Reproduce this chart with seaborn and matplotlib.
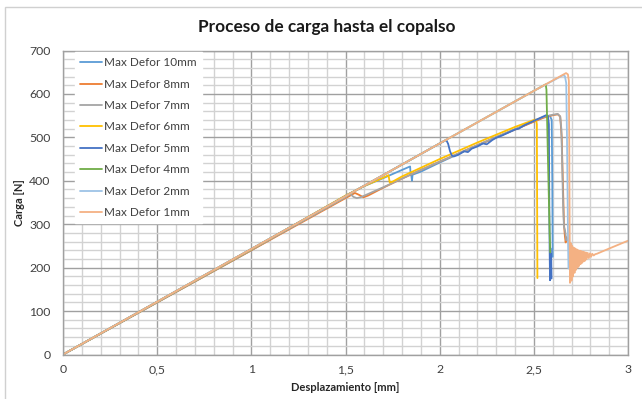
import numpy as np
import pandas as pd
import matplotlib
matplotlib.use("Agg")
import matplotlib.pyplot as plt
import seaborn as sns
from matplotlib.patches import Rectangle
from matplotlib.ticker import MultipleLocator

# ---------------- data ----------------
labels = ["Max Defor 10mm", "Max Defor 8mm", "Max Defor 7mm", "Max Defor 6mm",
          "Max Defor 5mm", "Max Defor 4mm", "Max Defor 2mm", "Max Defor 1mm"]
colors = ["#5B9BD5", "#ED7D31", "#A5A5A5", "#FFC000",
          "#4472C4", "#70AD47", "#9DC3E6", "#F4B183"]

s10_x = [0, 1.0, 1.52, 1.6, 1.7, 1.8, 1.843, 1.846, 1.85, 1.853, 1.856, 1.9, 2.0, 2.1, 2.2, 2.3, 2.4, 2.5, 2.55, 2.585, 2.595, 2.598, 2.6]
s10_y = [0, 240, 370, 388, 406, 425, 433, 413, 411, 400, 414, 421, 442, 462, 481, 500, 518, 537, 546, 550, 540, 400, 225]

s8_x = [0, 1.0, 1.5, 1.55, 1.57, 1.595, 1.62, 1.7, 1.8, 1.9, 2.0, 2.1, 2.2, 2.3, 2.4, 2.5, 2.55, 2.6, 2.627, 2.64, 2.648, 2.654, 2.66, 2.665, 2.669, 2.673, 2.678]
s8_y = [0, 240, 360, 372, 368, 362, 366, 384, 405, 425, 444, 463, 482, 500, 518, 536, 545, 551, 553, 548, 500, 400, 300, 272, 258, 270, 262]

s7_x = [0, 1.0, 1.5, 1.525, 1.542, 1.56, 1.58, 1.7, 1.8, 1.9, 2.0, 2.1, 2.2, 2.3, 2.4, 2.5, 2.55, 2.6, 2.627, 2.64, 2.646, 2.65, 2.655, 2.66, 2.666, 2.672]
s7_y = [0, 241, 362, 370, 363, 360, 362, 385, 405, 425, 444, 463, 482, 501, 519, 538, 547, 552, 554, 548, 520, 450, 350, 294, 285, 263]

s6_x = [0, 1.0, 1.5, 1.6, 1.7, 1.728, 1.735, 1.75, 1.8, 1.9, 2.0, 2.1, 2.2, 2.3, 2.4, 2.5, 2.512, 2.516, 2.518, 2.519]
s6_y = [0, 242, 366, 388, 407, 413, 396, 398, 410, 430, 450, 469, 488, 506, 524, 540, 541, 530, 300, 176]

s5_x = [0, 1.0, 2.0, 2.035, 2.045, 2.055, 2.065, 2.075, 2.1, 2.13, 2.15, 2.17, 2.2, 2.23, 2.25, 2.28, 2.3, 2.33, 2.35, 2.4, 2.42, 2.45, 2.5, 2.54, 2.565, 2.575, 2.58, 2.582, 2.584, 2.586, 2.588, 2.590, 2.592, 2.594]
s5_y = [0, 243, 486, 494, 485, 468, 458, 456, 460, 468, 466, 474, 479, 486, 484, 494, 499, 504, 508, 518, 520, 528, 538, 546, 551, 549, 530, 350, 240, 171, 245, 200, 232, 175]

s4_x = [0, 1.0, 2.0, 2.5, 2.563, 2.567, 2.575, 2.584, 2.587]
s4_y = [0, 243, 486, 607, 622, 610, 450, 280, 235]

s2_x = [0, 1.0, 2.0, 2.5, 2.655, 2.665, 2.672, 2.676, 2.682, 2.684]
s2_y = [0, 243, 486, 607, 643, 641, 625, 500, 250, 198]

s1_x = [0, 1.0, 2.0, 2.5, 2.671, 2.681, 2.686, 2.688, 2.690, 2.692,
        2.696, 2.700, 2.704, 2.708, 2.712, 2.716, 2.720, 2.724, 2.728, 2.732,
        2.736, 2.740, 2.744, 2.748, 2.752, 2.756, 2.760, 2.764, 2.768, 2.772,
        2.776, 2.780, 2.786, 2.792, 2.798, 2.804, 2.810, 2.818, 2.826, 2.835,
        2.9, 2.95, 3.0]
s1_y = [0, 243, 486, 607, 648, 645, 630, 500, 300, 165,
        256, 170, 250, 180, 246, 188, 244, 195, 242, 200,
        240, 204, 239, 208, 238, 211, 237, 214, 236, 216,
        235, 219, 234, 222, 233, 225, 232, 228, 231, 232,
        244, 253, 262]

series_x = [s10_x, s8_x, s7_x, s6_x, s5_x, s4_x, s2_x, s1_x]
series_y = [s10_y, s8_y, s7_y, s6_y, s5_y, s4_y, s2_y, s1_y]

xticks = [0, 0.5, 1, 1.5, 2, 2.5, 3]
xtick_labels = ["0", "0,5", "1", "1,5", "2", "2,5", "3"]
yticks = [0, 100, 200, 300, 400, 500, 600, 700]

# ---------------- figure ----------------
sns.set_theme(style="white")
plt.rcParams["font.family"] = ["Lato", "DejaVu Sans"]

W, H = 642, 399
fig = plt.figure(figsize=(W / 100, H / 100), dpi=100)
ax = fig.add_axes([63 / W, 1 - 354.5 / H, (628 - 63) / W, (354.5 - 50.5) / H])

for lab, col, xs, ys in zip(labels, colors, series_x, series_y):
    df = pd.DataFrame({"x": xs, "y": ys})
    sns.lineplot(data=df, x="x", y="y", sort=False, estimator=None,
                 color=col, lw=1.3, label=lab, ax=ax)

ax.set_xlim(0, 3)
ax.set_ylim(0, 700)
ax.set_xticks(xticks)
ax.set_xticklabels(xtick_labels)
ax.set_yticks(yticks)
ax.xaxis.set_minor_locator(MultipleLocator(0.1))
ax.yaxis.set_minor_locator(MultipleLocator(20))
ax.grid(which="major", color="#a0a0a0", lw=1.0)
ax.grid(which="minor", color="#d2d2d2", lw=1.0)
ax.set_axisbelow(True)
ax.tick_params(which="both", length=0)
ax.tick_params(axis="y", pad=9, labelsize=8.8, colors="#404040")
ax.tick_params(axis="x", pad=7, labelsize=8.8, colors="#404040")
for sp in ax.spines.values():
    sp.set_color("#a0a0a0")
    sp.set_linewidth(1.0)

ax.set_xlabel("Desplazamiento [mm]", fontsize=8, fontweight="bold", color="#262626", labelpad=5)
ax.set_ylabel("Carga [N]", fontsize=8, fontweight="bold", color="#262626", labelpad=3)

leg = ax.legend(loc="upper left", bbox_to_anchor=((75 - 63) / 565, 1 - 1.5 / 304),
                borderaxespad=0, borderpad=0.45, frameon=True, fancybox=False,
                framealpha=1, edgecolor="white", facecolor="white",
                fontsize=8.5, handlelength=1.85, handletextpad=0.15, labelspacing=0.88)
for t in leg.get_texts():
    t.set_color("#404040")

fig.text(327 / W, 1 - 27 / H, "Proceso de carga hasta el copalso",
         ha="center", va="center", fontsize=12.4, fontweight="bold", color="#1a1a1a")

fig.patches.append(Rectangle((5 / W, -0.2), 2, 1.2 - 7 / H, transform=fig.transFigure,
                             fill=False, edgecolor="#d0d0d0", lw=1.0))

fig.savefig("out.png", dpi=100)
